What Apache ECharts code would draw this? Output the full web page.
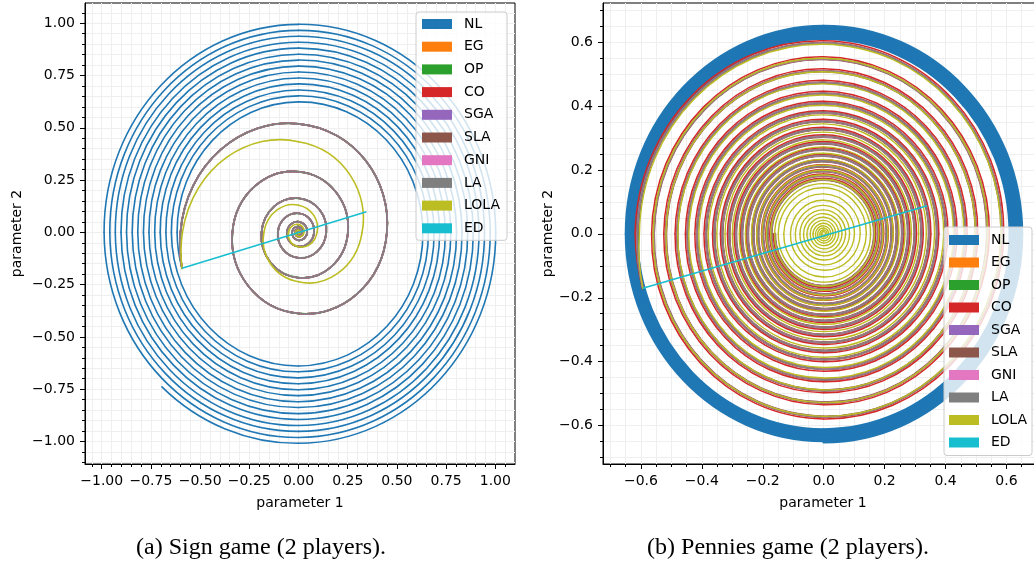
<!DOCTYPE html>
<html><head><meta charset="utf-8">
<script src="https://cdn.jsdelivr.net/npm/echarts@6/dist/echarts.min.js"></script>
<style>html,body{margin:0;padding:0;background:#fff}#c{width:1034px;height:561px}</style>
</head><body><div id="c"></div>
<script>
const methods = ['NL','EG','OP','CO','SGA','SLA','GNI','LA','LOLA','ED'];
const methodColors = ['#1f77b4','#ff7f0e','#2ca02c','#d62728','#9467bd','#8c564b','#e377c2','#7f7f7f','#bcbd22','#17becf'];

const signTicks = [-1, -0.75, -0.5, -0.25, 0, 0.25, 0.5, 0.75, 1];
const penniesTicks = [-0.6, -0.4, -0.2, 0, 0.2, 0.4, 0.6];

// ---- Sign game: common start, radii at successive axis crossings (left, top, right, bottom, ...) ----
const signStart = [-0.592, -0.172];
const signNLEnd = [-0.694, -0.739];
const signNLR = [0.617,0.624,0.632,0.639,0.646,0.653,0.660,0.667,0.674,0.681,
  0.689,0.696,0.703,0.710,0.717,0.724,0.731,0.738,0.746,0.753,
  0.760,0.767,0.774,0.781,0.788,0.795,0.803,0.810,0.817,0.824,
  0.831,0.838,0.845,0.852,0.860,0.867,0.874,0.881,0.888,0.895,
  0.902,0.909,0.917,0.924,0.931,0.938,0.945,0.952,0.959,0.966,
  0.974,0.981,0.988,0.995,1.002,1.009];
const signLAR = [0.600,0.519,0.449,0.388,0.336,0.290,0.251,0.217,0.188,0.163,
  0.141,0.122,0.105,0.091,0.079,0.068,0.059,0.051,0.044,0.038,
  0.033,0.028,0.024,0.021,0.018,0.016,0.014,0.012,0.010,0.009,0.008,0.007,0.006];
const signLOLAR = [0.590,0.433,0.323,0.236,0.176,0.130,0.094,0.069,0.051,0.038,
  0.028,0.021,0.015,0.011,0.008,0.006,0.0045];
const signEDEnd = [0.345, 0.099];

// ---- Pennies game ----
const penStart = [-0.594, -0.170];
const penNLR = [0.609,0.610,0.611,0.612,0.613,0.614,0.615,0.616,0.617,0.618,
  0.619,0.620,0.621,0.622,0.623,0.624,0.625,0.626,0.627,0.628,
  0.629,0.630,0.631,0.632,0.633,0.634,0.635,0.636,0.637,0.638,
  0.639,0.640,0.641,0.642,0.643,0.644,0.645,0.646,0.647,0.648,
  0.649,0.650,0.651,0.652];
const penCOR = [0.619,0.604,0.591,0.579,0.565,0.554,0.544,0.535,0.525,0.516,
  0.506,0.497,0.488,0.480,0.471,0.463,0.454,0.446,0.438,0.430,
  0.423,0.415,0.408,0.400,0.393,0.385,0.378,0.372,0.365,0.358,
  0.352,0.346,0.339,0.333,0.327,0.322,0.316,0.310,0.305,0.299,
  0.294,0.289,0.283,0.278,0.274,0.269,0.264,0.259,0.255,0.249,
  0.245,0.240,0.236,0.232,0.228,0.224,0.220,0.216,0.212,0.208,
  0.204,0.201,0.197,0.194,0.190,0.187,0.184,0.180,0.177,0.174,
  0.171,0.168,0.165];
const penSLAR = [0.612,0.597,0.584,0.572,0.558,0.547,0.537,0.528,0.518,0.509,
  0.499,0.490,0.481,0.473,0.464,0.456,0.447,0.439,0.431,0.423,
  0.416,0.408,0.401,0.393,0.386,0.379,0.372,0.366,0.359,0.352,
  0.346,0.340,0.333,0.327,0.321,0.316,0.310,0.304,0.299,0.293,
  0.288,0.283,0.277,0.272,0.268,0.263,0.258,0.253,0.249,0.244,
  0.240,0.235,0.231,0.227,0.223,0.219,0.215,0.211,0.207,0.203,
  0.199,0.196,0.192,0.189,0.185,0.182,0.179,0.175,0.172,0.169,
  0.166,0.163,0.160];
const penLOLAR = [0.605,0.593,0.582,0.571,0.560,0.549,0.538,0.528,0.518,0.507,
  0.498,0.488,0.479,0.469,0.460,0.451,0.443,0.434,0.426,0.418,
  0.410,0.402,0.394,0.386,0.379,0.372,0.364,0.357,0.351,0.344,
  0.337,0.331,0.324,0.318,0.312,0.306,0.300,0.294,0.288,0.283,
  0.277,0.272,0.267,0.262,0.257,0.252,0.247,0.242,0.237,0.233,
  0.228,0.224,0.220,0.215,0.211,0.207,0.203,0.199,0.195,0.192,
  0.188,0.184,0.181,0.177,0.174,0.170,0.167,0.164,0.161,0.157,
  0.154,0.151,0.149,
  0.144,0.140,0.135,0.131,0.125,0.120,0.114,0.109,0.105,0.101,0.097,0.093,
  0.089,0.085,0.082,0.078,0.075,0.072,0.069,0.066,0.063,0.060,0.058,0.055,
  0.052,0.049,0.047,0.044,0.042,0.039,0.037,0.035,0.033,0.031,0.029,0.027,
  0.025,0.023,0.022,0.020,0.018,0.016,0.015,0.013,0.012,0.011,0.009,0.008,
  0.007,0.006,0.005,0.004];
const penEDEnd = [0.340, 0.0875];

// crossing values -> [x,y] points (left, top, right, bottom cycle, clockwise)
function spiral(start, radii, end) {
  const dirs = [[-1,0],[0,1],[1,0],[0,-1]];
  const pts = [start.slice()];
  radii.forEach((r, i) => { const d = dirs[i % 4]; pts.push([d[0] * r, d[1] * r]); });
  if (end) pts.push(end.slice());
  return pts;
}
// consecutive points -> curve pieces with tangent handles (clockwise spiral arcs)
function arcPieces(pts) {
  const out = [];
  const TWO = 2 * Math.PI;
  for (let i = 0; i < pts.length - 1; i++) {
    const A = pts[i], B = pts[i + 1];
    const rA = Math.hypot(A[0], A[1]), rB = Math.hypot(B[0], B[1]);
    const tA = Math.atan2(A[1], A[0]), tB = Math.atan2(B[1], B[0]);
    let d = ((tA - tB) % TWO + TWO) % TWO;
    if (d < 1e-6) d = 1e-6;
    const dr = (rB - rA) / d;
    const k = 4 / 3 * Math.tan(d / 4);
    const dA = [dr * Math.cos(tA) + rA * Math.sin(tA), dr * Math.sin(tA) - rA * Math.cos(tA)];
    const dB = [dr * Math.cos(tB) + rB * Math.sin(tB), dr * Math.sin(tB) - rB * Math.cos(tB)];
    out.push([A[0], A[1], A[0] + k * dA[0], A[1] + k * dA[1], B[0] - k * dB[0], B[1] - k * dB[1], B[0], B[1]]);
  }
  return out;
}
function colorOf(n) { return methodColors[methods.indexOf(n)]; }
function curve(name, pts, ai, width) {
  const c = colorOf(name);
  return { type: 'custom', name, coordinateSystem: 'cartesian2d', xAxisIndex: ai, yAxisIndex: ai,
    data: arcPieces(pts), encode: { x: [0, 2, 4, 6], y: [1, 3, 5, 7] },
    itemStyle: { color: c }, silent: true, animation: false, clip: true,
    renderItem: function (params, api) {
      const a = api.coord([api.value(0), api.value(1)]);
      const c0 = api.coord([api.value(2), api.value(3)]);
      const c1 = api.coord([api.value(4), api.value(5)]);
      const b = api.coord([api.value(6), api.value(7)]);
      return { type: 'bezierCurve', silent: true,
        shape: { x1: a[0], y1: a[1], cpx1: c0[0], cpy1: c0[1], cpx2: c1[0], cpy2: c1[1], x2: b[0], y2: b[1] },
        style: { stroke: c, lineWidth: width, fill: 'none', lineCap: 'round' } };
    } };
}
function straight(name, data, ai, width) {
  const c = colorOf(name);
  return { type: 'line', name, data, xAxisIndex: ai, yAxisIndex: ai, smooth: false,
    showSymbol: false, symbol: 'none', color: c, lineStyle: { width, color: c }, itemStyle: { color: c },
    emphasis: { disabled: true }, silent: true, animation: false, clip: true };
}

const signLA = spiral(signStart, signLAR);
const penSLA = spiral(penStart, penSLAR);
const series = [
  curve('NL', spiral(signStart, signNLR, signNLEnd), 0, 1.6),
  curve('EG', signLA, 0, 1.6), curve('OP', signLA, 0, 1.9), curve('CO', signLA, 0, 1.6),
  curve('SGA', signLA, 0, 1.6), curve('SLA', signLA, 0, 1.6), curve('GNI', signLA, 0, 1.6),
  curve('LA', signLA, 0, 1.6),
  curve('LOLA', spiral(signStart, signLOLAR), 0, 1.6),
  straight('ED', [signStart, signEDEnd], 0, 1.6),

  curve('NL', spiral(penStart, penNLR), 2, 2.6),
  curve('EG', penSLA, 2, 1.5), curve('OP', penSLA, 2, 1.5),
  curve('CO', spiral(penStart, penCOR), 2, 1.5),
  curve('SGA', penSLA, 2, 1.5),
  curve('SLA', penSLA, 2, 2.6),
  curve('GNI', penSLA, 2, 1.5),
  curve('LA', penSLA, 2, 1.3),
  curve('LOLA', spiral(penStart, penLOLAR), 2, 1.4),
  straight('ED', [penStart, penEDEnd], 2, 1.6)
];

function fmt(v, d) { return (Math.abs(v) < 1e-9 ? 0 : v).toFixed(d).replace('-', '\u2212'); }
function minorVals(min, max) {
  const out = [];
  for (let k = Math.ceil(min / 0.05 - 1e-9); k <= Math.floor(max / 0.05 + 1e-9); k++) {
    const v = +(k * 0.05).toFixed(2);
    if (v > min + 1e-6 && v < max - 1e-6) out.push(v);
  }
  return out;
}
const font = 'DejaVu Sans';
function majorAxis(gi, min, max, ticks, dec, pos, name, gap) {
  const isY = pos === 'left';
  return { gridIndex: gi, type: 'value', min, max, position: pos,
    axisLine: { show: true, onZero: false, lineStyle: { color: '#000', width: 1 } },
    axisTick: { show: true, customValues: ticks, length: 5, inside: false, lineStyle: { color: '#000', width: 1 } },
    axisLabel: { customValues: ticks, formatter: v => fmt(v, dec), margin: 10, fontSize: 14, fontFamily: font, color: '#000' },
    splitLine: { show: true, lineStyle: { color: '#e2e2e2', width: 1 } },
    name, nameLocation: 'middle', nameGap: gap, nameRotate: isY ? 90 : 0,
    nameTextStyle: { fontSize: 14, fontFamily: font, color: '#000' } };
}
function minorAxis(gi, min, max, pos) {
  const mv = minorVals(min, max);
  return { gridIndex: gi, type: 'value', min, max, position: pos,
    axisLine: { show: false, onZero: false },
    axisTick: { show: true, customValues: mv, length: 3, inside: false, lineStyle: { color: '#000', width: 1 } },
    axisLabel: { show: false, customValues: mv },
    splitLine: { show: true, lineStyle: { color: '#efefef', width: 1 } } };
}

const SX = [-1.085, 1.10], SY = [-1.108, 1.097];
const PX = [-0.7245, 0.72], PY = [-0.72, 0.722];

const legendBase = {
  data: methods, orient: 'vertical', icon: 'rect', itemWidth: 30, itemHeight: 10,
  selectedMode: false, backgroundColor: 'rgba(255,255,255,0.8)', borderColor: '#cccccc',
  borderWidth: 1, borderRadius: 3, itemStyle: { borderWidth: 0 },
  textStyle: { fontSize: 14, fontFamily: font, color: '#000', lineHeight: 14, padding: [0, 0, 0, 7] }
};

const option = {
  animation: false,
  backgroundColor: '#fff',
  grid: [
    { left: 85, top: 3, width: 430, height: 461, show: true, borderColor: '#000', borderWidth: 1, backgroundColor: 'transparent', containLabel: false, outerBoundsMode: 'none' },
    { left: 603, top: 3, width: 440, height: 461, show: true, borderColor: '#000', borderWidth: 1, backgroundColor: 'transparent', containLabel: false, outerBoundsMode: 'none' }
  ],
  xAxis: [
    majorAxis(0, SX[0], SX[1], signTicks, 2, 'bottom', 'parameter 1', 32),
    minorAxis(0, SX[0], SX[1], 'bottom'),
    majorAxis(1, PX[0], PX[1], penniesTicks, 1, 'bottom', 'parameter 1', 32),
    minorAxis(1, PX[0], PX[1], 'bottom')
  ],
  yAxis: [
    majorAxis(0, SY[0], SY[1], signTicks, 2, 'left', 'parameter 2', 61),
    minorAxis(0, SY[0], SY[1], 'left'),
    majorAxis(1, PY[0], PY[1], penniesTicks, 1, 'left', 'parameter 2', 47),
    minorAxis(1, PY[0], PY[1], 'left')
  ],
  legend: [
    Object.assign({}, legendBase, { left: 416, top: 12, itemGap: 8.7, padding: [5, 7, 5, 6] }),
    Object.assign({}, legendBase, { left: 944, top: 227, itemGap: 8.5, padding: [6, 5, 6, 5] })
  ],
  graphic: [
    { type: 'text', x: 261, y: 548, silent: true, style: { text: '(a) Sign game (2 players).', font: '24px "Liberation Serif"', fill: '#000', align: 'center', verticalAlign: 'middle' } },
    { type: 'text', x: 788, y: 548, silent: true, style: { text: '(b) Pennies game (2 players).', font: '24px "Liberation Serif"', fill: '#000', align: 'center', verticalAlign: 'middle' } }
  ],
  series
};

const chart = echarts.init(document.getElementById('c'), null, { renderer: 'canvas' });
chart.setOption(option);
</script>
</body></html>
